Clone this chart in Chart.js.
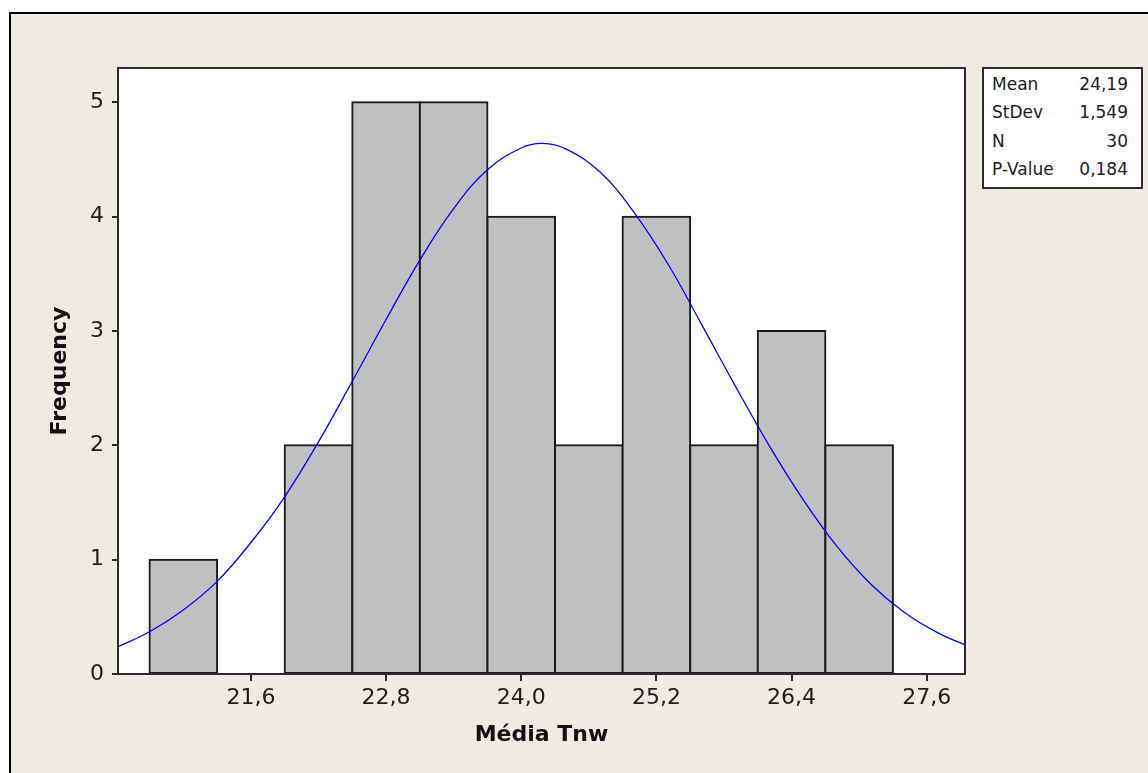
<!DOCTYPE html>
<html>
<head>
<meta charset="utf-8">
<title>Histogram of Média Tnw</title>
<script src="https://cdn.jsdelivr.net/npm/chart.js@4.4.1/dist/chart.umd.min.js"></script>
<style>
    body { margin: 0; background: #ffffff; overflow: hidden; }
    .frame {
        position: absolute; left: 9px; top: 12px; width: 1200px; height: 820px;
        border: 2px solid #000; background: #efebe1;
    }
    .chart-wrap { position: absolute; left: 0; top: 0; width: 1148px; height: 773px; }
    .stats {
        position: absolute; left: 982px; top: 67px; width: 136px;
        border: 2px solid #2b2b2b; background: #fff;
        padding: 1px 13px 4px 8px;
        font-family: 'DejaVu Sans', sans-serif; font-size: 17px; color: #1c1c1c;
    }
    .stats .row { display: flex; justify-content: space-between; line-height: 28.3px; }
</style>
</head>
<body>
<div class="frame"></div>
<div class="chart-wrap"><canvas id="histChart"></canvas></div>
<div class="stats" id="stats"></div>

<script>
// histogram bins (width 0,6)
const binCenters = [21.0, 21.6, 22.2, 22.8, 23.4, 24.0, 24.6, 25.2, 25.8, 26.4, 27.0];
const frequencies = [1, 0, 2, 5, 5, 4, 2, 4, 2, 3, 2];

// fitted normal curve
const curveX = [20.4, 20.7, 21.0, 21.3, 21.6, 21.9, 22.2, 22.5, 22.8, 23.1, 23.4, 23.7, 24.0, 24.19,
                24.4, 24.7, 25.0, 25.3, 25.6, 25.9, 26.2, 26.5, 26.8, 27.1, 27.4, 27.7, 28.0];
const curveY = [0.23, 0.37, 0.56, 0.81, 1.15, 1.55, 2.03, 2.56, 3.10, 3.62, 4.07, 4.41, 4.60, 4.64,
                4.59, 4.39, 4.04, 3.59, 3.06, 2.52, 2.00, 1.53, 1.12, 0.79, 0.54, 0.36, 0.23];

const xTicks = [21.6, 22.8, 24.0, 25.2, 26.4, 27.6];
const yTicks = [0, 1, 2, 3, 4, 5];

const statLabels = ['Mean', 'StDev', 'N', 'P-Value'];
const statValues = ['24,19', '1,549', '30', '0,184'];

document.addEventListener('DOMContentLoaded', function() {
    const statsBox = document.getElementById('stats');
    statLabels.forEach((label, i) => {
        const row = document.createElement('div');
        row.className = 'row';
        row.innerHTML = '<span>' + label + '</span><span>' + statValues[i] + '</span>';
        statsBox.appendChild(row);
    });

    const plotFrame = {
        id: 'plotFrame',
        beforeDraw(chart) {
            const { ctx, chartArea } = chart;
            ctx.save();
            ctx.fillStyle = '#ffffff';
            ctx.fillRect(chartArea.left, chartArea.top, chartArea.width, chartArea.height);
            ctx.restore();
        },
        afterDatasetsDraw(chart) {
            const { ctx, chartArea } = chart;
            ctx.save();
            ctx.strokeStyle = '#2b2b2b';
            ctx.lineWidth = 2;
            ctx.strokeRect(chartArea.left, chartArea.top, chartArea.width, chartArea.height);
            ctx.restore();
        }
    };

    const tickFont = { family: "'DejaVu Sans', sans-serif", size: 22 };
    const titleFont = { family: "'DejaVu Sans', sans-serif", size: 22, weight: 'bold' };

    new Chart(document.getElementById('histChart'), {
        type: 'bar',
        data: {
            datasets: [{
                type: 'line',
                data: curveX.map((x, i) => ({ x: x, y: curveY[i] })),
                borderColor: '#0000ff',
                borderWidth: 1.3,
                pointRadius: 0,
                tension: 0.4,
                fill: false,
                order: 0
            }, {
                type: 'bar',
                data: binCenters.map((x, i) => ({ x: x, y: frequencies[i] })),
                backgroundColor: '#c0c0c0',
                borderColor: '#1a1a1a',
                borderWidth: 2,
                borderSkipped: false,
                inflateAmount: 1,
                barPercentage: 1,
                categoryPercentage: 1,
                order: 1
            }]
        },
        options: {
            responsive: true,
            maintainAspectRatio: false,
            animation: false,
            layout: { padding: { top: 68, right: 183, left: 0, bottom: 0 } },
            plugins: {
                legend: { display: false },
                tooltip: { enabled: false }
            },
            scales: {
                x: {
                    type: 'linear',
                    min: 20.42,
                    max: 27.94,
                    offset: false,
                    afterBuildTicks: scale => { scale.ticks = xTicks.map(v => ({ value: v })); },
                    afterFit: scale => { scale.height = 99; },
                    grid: { offset: false, drawOnChartArea: false, tickLength: 7, lineWidth: 2, color: '#2b2b2b' },
                    border: { display: false },
                    ticks: {
                        font: tickFont,
                        color: '#1c1c1c',
                        padding: 4,
                        maxRotation: 0,
                        callback: value => value.toFixed(1).replace('.', ',')
                    },
                    title: {
                        display: true,
                        text: 'Média Tnw',
                        font: titleFont,
                        color: '#111',
                        padding: { top: 0, bottom: 25 }
                    }
                },
                y: {
                    min: 0,
                    max: 5.3,
                    afterBuildTicks: scale => { scale.ticks = yTicks.map(v => ({ value: v })); },
                    afterFit: scale => { scale.width = 118; },
                    grid: { drawOnChartArea: false, tickLength: 6, lineWidth: 2, color: '#2b2b2b' },
                    border: { display: false },
                    ticks: { font: tickFont, color: '#1c1c1c', padding: 8 },
                    title: {
                        display: true,
                        text: 'Frequency',
                        font: titleFont,
                        color: '#111',
                        padding: { top: 47, bottom: 0 }
                    }
                }
            }
        },
        plugins: [plotFrame]
    });
});
</script>
</body>
</html>
